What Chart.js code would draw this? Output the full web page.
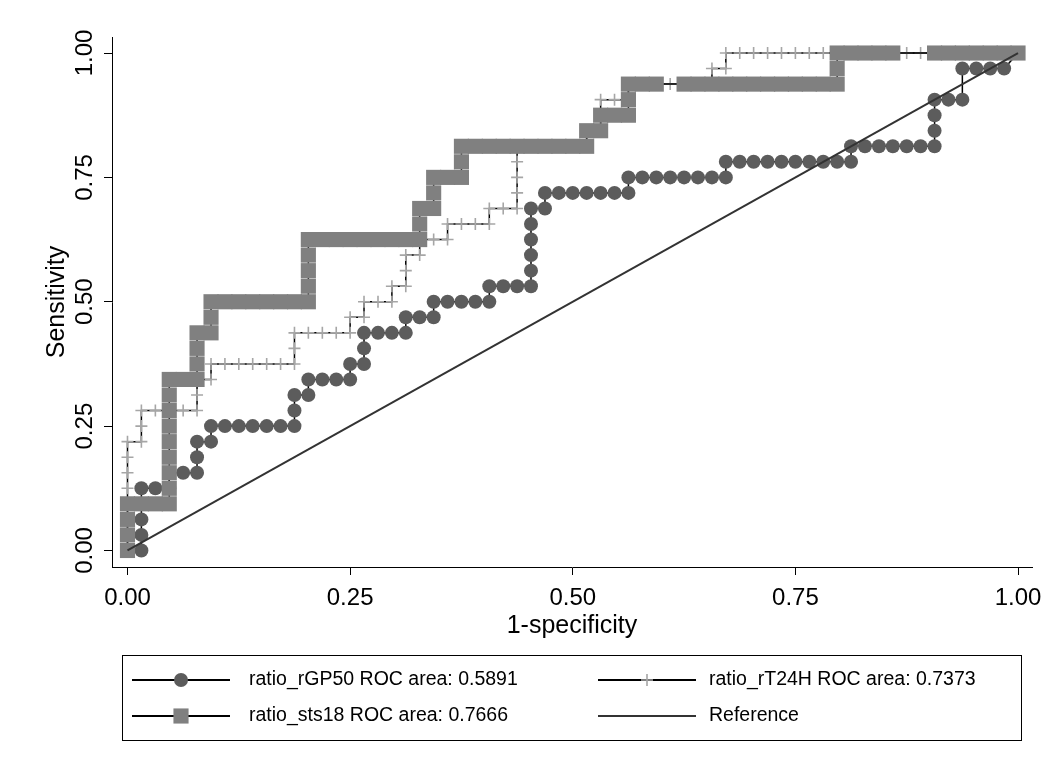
<!DOCTYPE html>
<html>
<head>
<meta charset="utf-8">
<title>ROC curves</title>
<script src="https://cdn.jsdelivr.net/npm/chart.js@4.4.1/dist/chart.umd.min.js"></script>
<style>
  html, body { margin: 0; padding: 0; background: #ffffff; }
  #roc { display: block; }
</style>
</head>
<body>
<canvas id="roc" width="1064" height="764"></canvas>
<script>
// ---- ROC points: 1-specificity (x) and sensitivity (y) for each marker ----
const rGP50Fpr = [
  0, 0.0156, 0.0156, 0.0156, 0.0156, 0.0156, 0.0313, 0.0469, 0.0469, 0.0625,
  0.0781, 0.0781, 0.0781, 0.0938, 0.0938, 0.1094, 0.125, 0.1406, 0.1563, 0.1719,
  0.1875, 0.1875, 0.1875, 0.2031, 0.2031, 0.2188, 0.2344, 0.25, 0.25, 0.2656,
  0.2656, 0.2656, 0.2813, 0.2969, 0.3125, 0.3125, 0.3281, 0.3438, 0.3438, 0.3594,
  0.375, 0.3906, 0.4063, 0.4063, 0.4219, 0.4375, 0.4531, 0.4531, 0.4531, 0.4531,
  0.4531, 0.4531, 0.4688, 0.4688, 0.4844, 0.5, 0.5156, 0.5313, 0.5469, 0.5625,
  0.5625, 0.5781, 0.5938, 0.6094, 0.625, 0.6406, 0.6563, 0.6719, 0.6719, 0.6875,
  0.7031, 0.7188, 0.7344, 0.75, 0.7656, 0.7813, 0.7969, 0.8125, 0.8125, 0.8281,
  0.8438, 0.8594, 0.875, 0.8906, 0.9063, 0.9063, 0.9063, 0.9063, 0.9219, 0.9375,
  0.9375, 0.9531, 0.9688, 0.9844, 1
];
const rGP50Sens = [
  0, 0, 0.0313, 0.0625, 0.0938, 0.125, 0.125, 0.125, 0.1563, 0.1563,
  0.1563, 0.1875, 0.2188, 0.2188, 0.25, 0.25, 0.25, 0.25, 0.25, 0.25,
  0.25, 0.2813, 0.3125, 0.3125, 0.3438, 0.3438, 0.3438, 0.3438, 0.375, 0.375,
  0.4063, 0.4375, 0.4375, 0.4375, 0.4375, 0.4688, 0.4688, 0.4688, 0.5, 0.5,
  0.5, 0.5, 0.5, 0.5313, 0.5313, 0.5313, 0.5313, 0.5625, 0.5938, 0.625,
  0.6563, 0.6875, 0.6875, 0.7188, 0.7188, 0.7188, 0.7188, 0.7188, 0.7188, 0.7188,
  0.75, 0.75, 0.75, 0.75, 0.75, 0.75, 0.75, 0.75, 0.7813, 0.7813,
  0.7813, 0.7813, 0.7813, 0.7813, 0.7813, 0.7813, 0.7813, 0.7813, 0.8125, 0.8125,
  0.8125, 0.8125, 0.8125, 0.8125, 0.8125, 0.8438, 0.875, 0.9063, 0.9063, 0.9063,
  0.9688, 0.9688, 0.9688, 0.9688, 1
];

const rT24HFpr = [
  0, 0, 0, 0, 0, 0, 0, 0, 0.0156, 0.0156,
  0.0156, 0.0313, 0.0469, 0.0625, 0.0781, 0.0781, 0.0781, 0.0938, 0.0938, 0.1094,
  0.125, 0.1406, 0.1563, 0.1719, 0.1875, 0.1875, 0.1875, 0.2031, 0.2188, 0.2344,
  0.25, 0.25, 0.2656, 0.2656, 0.2813, 0.2969, 0.2969, 0.3125, 0.3125, 0.3125,
  0.3281, 0.3281, 0.3438, 0.3594, 0.3594, 0.375, 0.3906, 0.4063, 0.4063, 0.4219,
  0.4375, 0.4375, 0.4375, 0.4375, 0.4375, 0.4531, 0.4688, 0.4844, 0.5, 0.5156,
  0.5156, 0.5313, 0.5313, 0.5313, 0.5469, 0.5625, 0.5625, 0.5781, 0.5938, 0.6094,
  0.625, 0.6406, 0.6563, 0.6563, 0.6719, 0.6719, 0.6875, 0.7031, 0.7188, 0.7344,
  0.75, 0.7656, 0.7813, 0.7969, 0.8125, 0.8281, 0.8438, 0.8594, 0.875, 0.8906,
  0.9063, 0.9219, 0.9375, 0.9531, 0.9688, 0.9844, 1
];
const rT24HSens = [
  0, 0.0313, 0.0625, 0.0938, 0.125, 0.1563, 0.1875, 0.2188, 0.2188, 0.25,
  0.2813, 0.2813, 0.2813, 0.2813, 0.2813, 0.3125, 0.3438, 0.3438, 0.375, 0.375,
  0.375, 0.375, 0.375, 0.375, 0.375, 0.4063, 0.4375, 0.4375, 0.4375, 0.4375,
  0.4375, 0.4688, 0.4688, 0.5, 0.5, 0.5, 0.5313, 0.5313, 0.5625, 0.5938,
  0.5938, 0.625, 0.625, 0.625, 0.6563, 0.6563, 0.6563, 0.6563, 0.6875, 0.6875,
  0.6875, 0.7188, 0.75, 0.7813, 0.8125, 0.8125, 0.8125, 0.8125, 0.8125, 0.8125,
  0.8438, 0.8438, 0.875, 0.9063, 0.9063, 0.9063, 0.9375, 0.9375, 0.9375, 0.9375,
  0.9375, 0.9375, 0.9375, 0.9688, 0.9688, 1, 1, 1, 1, 1,
  1, 1, 1, 1, 1, 1, 1, 1, 1, 1,
  1, 1, 1, 1, 1, 1, 1
];

const sts18Fpr = [
  0, 0, 0, 0, 0.0156, 0.0313, 0.0469, 0.0469, 0.0469, 0.0469,
  0.0469, 0.0469, 0.0469, 0.0469, 0.0469, 0.0625, 0.0781, 0.0781, 0.0781, 0.0781,
  0.0938, 0.0938, 0.0938, 0.1094, 0.125, 0.1406, 0.1563, 0.1719, 0.1875, 0.2031,
  0.2031, 0.2031, 0.2031, 0.2031, 0.2188, 0.2344, 0.25, 0.2656, 0.2813, 0.2969,
  0.3125, 0.3281, 0.3281, 0.3281, 0.3438, 0.3438, 0.3438, 0.3594, 0.375, 0.375,
  0.375, 0.3906, 0.4063, 0.4219, 0.4375, 0.4531, 0.4688, 0.4844, 0.5, 0.5156,
  0.5156, 0.5313, 0.5313, 0.5469, 0.5625, 0.5625, 0.5625, 0.5781, 0.5938, 0.625,
  0.6406, 0.6563, 0.6719, 0.6875, 0.7031, 0.7188, 0.7344, 0.75, 0.7656, 0.7813,
  0.7969, 0.7969, 0.7969, 0.8125, 0.8281, 0.8438, 0.8594, 0.9063, 0.9219, 0.9375,
  0.9531, 0.9688, 0.9844, 1
];
const sts18Sens = [
  0, 0.0313, 0.0625, 0.0938, 0.0938, 0.0938, 0.0938, 0.125, 0.1563, 0.1875,
  0.2188, 0.25, 0.2813, 0.3125, 0.3438, 0.3438, 0.3438, 0.375, 0.4063, 0.4375,
  0.4375, 0.4688, 0.5, 0.5, 0.5, 0.5, 0.5, 0.5, 0.5, 0.5,
  0.5313, 0.5625, 0.5938, 0.625, 0.625, 0.625, 0.625, 0.625, 0.625, 0.625,
  0.625, 0.625, 0.6563, 0.6875, 0.6875, 0.7188, 0.75, 0.75, 0.75, 0.7813,
  0.8125, 0.8125, 0.8125, 0.8125, 0.8125, 0.8125, 0.8125, 0.8125, 0.8125, 0.8125,
  0.8438, 0.8438, 0.875, 0.875, 0.875, 0.9063, 0.9375, 0.9375, 0.9375, 0.9375,
  0.9375, 0.9375, 0.9375, 0.9375, 0.9375, 0.9375, 0.9375, 0.9375, 0.9375, 0.9375,
  0.9375, 0.9688, 1, 1, 1, 1, 1, 1, 1, 1,
  1, 1, 1, 1
];

const refFpr = [0, 1];
const refSens = [0, 1];

const seriesLabels = [
  'ratio_rGP50 ROC area: 0.5891',
  'ratio_rT24H ROC area: 0.7373',
  'ratio_sts18 ROC area: 0.7666',
  'Reference'
];

const axisTickValues = [0, 0.25, 0.5, 0.75, 1];
const axisTickLabels = ['0.00', '0.25', '0.50', '0.75', '1.00'];

// ---- drawing ----
const FONT = "'Liberation Sans', Arial, Helvetica, sans-serif";

function toPoints(xs, ys) {
  return xs.map((x, k) => ({ x: x, y: ys[k] }));
}

function drawMarker(ctx, ds, x, y) {
  const r = ds.pointRadius;
  ctx.save();
  if (ds.pointStyle === 'circle') {
    ctx.fillStyle = ds.pointBackgroundColor;
    ctx.beginPath();
    ctx.arc(x, y, r, 0, Math.PI * 2);
    ctx.fill();
  } else if (ds.pointStyle === 'rect') {
    const h = Math.SQRT1_2 * r;
    ctx.fillStyle = ds.pointBackgroundColor;
    ctx.fillRect(x - h, y - h, 2 * h, 2 * h);
  } else if (ds.pointStyle === 'cross') {
    ctx.strokeStyle = ds.pointBorderColor;
    ctx.lineWidth = ds.pointBorderWidth;
    ctx.beginPath();
    ctx.moveTo(x - r, y); ctx.lineTo(x + r, y);
    ctx.moveTo(x, y - r); ctx.lineTo(x, y + r);
    ctx.stroke();
  }
  ctx.restore();
}

// Boxed two-column key below the plot: line sample, marker, label
const rocKey = {
  id: 'rocKey',
  afterDraw(chart) {
    const ctx = chart.ctx;
    const ds = chart.data.datasets;
    const slots = [
      { x: 132, y: 680, tx: 249 },
      { x: 598, y: 680, tx: 709 },
      { x: 132, y: 716, tx: 249 },
      { x: 598, y: 716, tx: 709 }
    ];
    ctx.save();
    ctx.strokeStyle = '#000';
    ctx.lineWidth = 1;
    ctx.strokeRect(122.5, 655.5, 899, 85);
    ds.forEach((d, k) => {
      const s = slots[k];
      ctx.beginPath();
      ctx.moveTo(s.x, s.y);
      ctx.lineTo(s.x + 98, s.y);
      ctx.strokeStyle = d.borderColor;
      ctx.lineWidth = 2;
      ctx.stroke();
      if (d.pointRadius > 0) drawMarker(ctx, d, s.x + 49, s.y);
      ctx.fillStyle = '#000';
      ctx.font = '19.5px ' + FONT;
      ctx.textAlign = 'left';
      ctx.textBaseline = 'middle';
      ctx.fillText(d.label, s.tx, s.y);
    });
    ctx.restore();
  }
};

new Chart(document.getElementById('roc'), {
  type: 'scatter',
  data: {
    datasets: [
      {
        label: seriesLabels[0],
        data: toPoints(rGP50Fpr, rGP50Sens),
        showLine: true, tension: 0,
        borderColor: '#000000', borderWidth: 1.5,
        pointStyle: 'circle', pointRadius: 7, pointHoverRadius: 7,
        pointBackgroundColor: '#5c5c5c', pointBorderColor: '#5c5c5c', pointBorderWidth: 0,
        order: 3
      },
      {
        label: seriesLabels[1],
        data: toPoints(rT24HFpr, rT24HSens),
        showLine: true, tension: 0,
        borderColor: '#000000', borderWidth: 1.5,
        pointStyle: 'cross', pointRadius: 6, pointHoverRadius: 6,
        pointBackgroundColor: '#a6a6a6', pointBorderColor: '#a6a6a6', pointBorderWidth: 1.6,
        order: 2
      },
      {
        label: seriesLabels[2],
        data: toPoints(sts18Fpr, sts18Sens),
        showLine: true, tension: 0,
        borderColor: '#000000', borderWidth: 1.5,
        pointStyle: 'rect', pointRadius: 10.7, pointHoverRadius: 10.7,
        pointBackgroundColor: '#808080', pointBorderColor: '#808080', pointBorderWidth: 0,
        order: 1
      },
      {
        label: seriesLabels[3],
        data: toPoints(refFpr, refSens),
        showLine: true, tension: 0,
        borderColor: '#333333', borderWidth: 2,
        pointRadius: 0, pointHoverRadius: 0,
        order: 0
      }
    ]
  },
  options: {
    responsive: false,
    animation: false,
    events: [],
    layout: { padding: { top: 37, right: 32, bottom: 117, left: 0 } },
    plugins: {
      legend: { display: false },
      tooltip: { enabled: false },
      title: { display: false }
    },
    scales: {
      x: {
        type: 'linear',
        position: 'bottom',
        min: -0.0174,
        max: 1.0157,
        afterBuildTicks: (s) => { s.ticks = axisTickValues.map(v => ({ value: v })); },
        afterFit: (s) => { s.height = 80; },
        ticks: {
          callback: (v, i) => axisTickLabels[i],
          font: { family: FONT, size: 24 },
          color: '#000000',
          padding: 8.6,
          maxRotation: 0,
          autoSkip: false
        },
        grid: { display: true, drawOnChartArea: false, drawTicks: true, tickLength: 8, color: '#000000', lineWidth: 1 },
        border: { display: true, color: '#000000', width: 1 },
        title: {
          display: true,
          text: '1-specificity',
          color: '#000000',
          font: { family: FONT, size: 25 },
          padding: { top: 0, bottom: 6 }
        }
      },
      y: {
        type: 'linear',
        position: 'left',
        min: -0.0332,
        max: 1.0322,
        afterBuildTicks: (s) => { s.ticks = axisTickValues.map(v => ({ value: v })); },
        afterFit: (s) => { s.width = 112; },
        ticks: {
          callback: (v, i) => axisTickLabels[i],
          font: { family: FONT, size: 24 },
          color: '#000000',
          padding: -5,
          minRotation: 90,
          maxRotation: 90,
          crossAlign: 'center',
          autoSkip: false
        },
        grid: { display: true, drawOnChartArea: false, drawTicks: true, tickLength: 8, color: '#000000', lineWidth: 1 },
        border: { display: true, color: '#000000', width: 1 },
        title: {
          display: true,
          text: 'Sensitivity',
          color: '#000000',
          font: { family: FONT, size: 25 },
          padding: { top: 42, bottom: 0 }
        }
      }
    }
  },
  plugins: [rocKey]
});
</script>
</body>
</html>
